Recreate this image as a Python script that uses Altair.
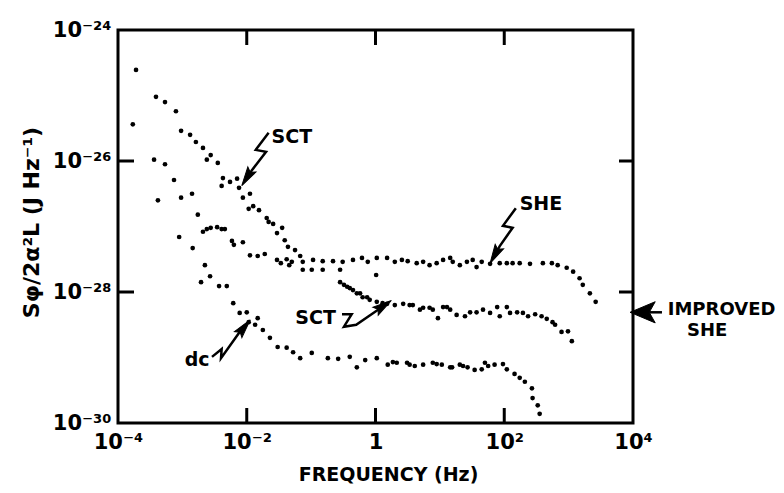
import altair as alt
import pandas as pd

# ---- data (log10 of frequency in Hz, log10 of S_phi/2a^2L in J/Hz) ----
sct_hi_logf = [-3.72, -3.41, -3.27, -3.10, -3.02, -2.88, -2.79, -2.68, -2.56, -2.62, -2.45, -2.37,
               -2.26, -2.15, -2.39, -2.12, -2.06, -1.95, -1.90, -1.97, -1.81, -1.69, -1.66, -1.59,
               -1.45, -1.53, -1.41, -1.36, -1.25, -1.17, -1.13, -0.99, -0.82, -0.55, 0.01]
sct_hi_logs = [-24.61, -25.02, -25.10, -25.24, -25.54, -25.60, -25.71, -25.80, -25.91, -25.98, -26.03, -26.26,
               -26.32, -26.27, -26.38, -26.41, -26.56, -26.50, -26.69, -26.73, -26.75, -26.87, -26.93, -26.96,
               -27.02, -27.10, -27.21, -27.31, -27.36, -27.45, -27.66, -27.66, -27.66, -27.66, -27.74]

she_logf = [-3.77, -3.44, -3.27, -3.13, -3.02, -2.85, -2.76, -2.68, -2.62, -2.56, -2.46, -2.39, -2.34,
            -2.23, -2.20, -2.06, -1.95, -1.83, -1.72, -1.53, -1.47, -1.38, -1.34, -1.30, -1.13, -0.97,
            -0.82, -0.66, -0.51, -0.35, -0.21, -0.12, 0.02, 0.18, 0.30, 0.41, 0.50, 0.64, 0.74, 0.84,
            0.95, 1.05, 1.16, 1.20, 1.31, 1.42, 1.51, 1.57, 1.65, 1.78, 1.93, 2.04, 2.13, 2.24, 2.40,
            2.60, 2.74, 2.83, 2.97, 3.07, 3.17, 3.22, 3.33, 3.42]
she_logs = [-25.44, -25.98, -26.05, -26.29, -26.56, -26.50, -26.82, -27.08, -27.04, -27.02, -27.01, -27.04,
            -27.04, -27.22, -27.28, -27.24, -27.44, -27.45, -27.42, -27.51, -27.56, -27.50, -27.59, -27.54,
            -27.54, -27.51, -27.53, -27.53, -27.54, -27.51, -27.48, -27.54, -27.48, -27.48, -27.54, -27.51,
            -27.53, -27.56, -27.54, -27.59, -27.56, -27.51, -27.48, -27.54, -27.59, -27.54, -27.51, -27.62,
            -27.54, -27.57, -27.56, -27.56, -27.56, -27.56, -27.57, -27.56, -27.56, -27.59, -27.63, -27.69,
            -27.79, -27.89, -28.02, -28.15]

sct_lo_logf = [-0.55, -0.49, -0.44, -0.40, -0.35, -0.29, -0.24, -0.20, -0.13, -0.09, 0.02, 0.11, 0.18,
               0.30, 0.43, 0.53, 0.58, 0.69, 0.74, 0.84, 0.89, 0.97, 1.05, 1.11, 1.16, 1.26, 1.39, 1.47,
               1.57, 1.67, 1.78, 1.89, 1.93, 2.04, 2.09, 2.20, 2.29, 2.37, 2.48, 2.58, 2.66, 2.75, 2.79,
               2.89, 2.99, 3.05]
sct_lo_logs = [-27.85, -27.89, -27.92, -27.94, -27.97, -28.02, -28.02, -28.08, -28.08, -28.12, -28.15,
               -28.17, -28.18, -28.20, -28.18, -28.20, -28.20, -28.27, -28.24, -28.24, -28.27, -28.40,
               -28.23, -28.23, -28.27, -28.35, -28.37, -28.31, -28.31, -28.27, -28.32, -28.23, -28.37,
               -28.23, -28.32, -28.31, -28.32, -28.37, -28.34, -28.37, -28.41, -28.46, -28.50, -28.61,
               -28.60, -28.75]

dc_logf = [-3.38, -3.05, -2.84, -2.65, -2.57, -2.71, -2.43, -2.31, -2.21, -2.11, -2.00, -1.97, -1.87,
           -1.83, -1.75, -1.64, -1.52, -1.38, -1.28, -1.17, -0.99, -0.74, -0.58, -0.40, -0.29, -0.16,
           0.02, 0.19, 0.27, 0.33, 0.49, 0.53, 0.61, 0.74, 0.89, 0.95, 1.03, 1.16, 1.19, 1.31, 1.36,
           1.43, 1.54, 1.65, 1.70, 1.75, 1.85, 1.98, 2.04, 2.16, 2.24, 2.32, 2.43, 2.44, 2.52, 2.55]
dc_logs = [-26.60, -27.16, -27.33, -27.59, -27.76, -27.85, -27.91, -27.91, -28.17, -28.32, -28.31, -28.46,
           -28.50, -28.40, -28.58, -28.70, -28.84, -28.85, -28.92, -29.01, -28.93, -29.01, -29.02, -28.99,
           -29.15, -29.04, -29.01, -29.11, -29.07, -29.08, -29.08, -29.11, -29.13, -29.11, -29.08, -29.10,
           -29.11, -29.15, -29.15, -29.11, -29.13, -29.15, -29.19, -29.18, -29.08, -29.13, -29.11, -29.10,
           -29.18, -29.25, -29.31, -29.37, -29.47, -29.62, -29.73, -29.86]

# annotation labels inside the plot (text, log f, log S) -- centred
label_text = ["SCT", "SHE", "SCT", "dc"]
label_logf = [-1.30, 2.57, -0.93, -2.77]
label_logs = [-25.63, -26.66, -28.40, -29.04]
# labels beside the right frame -- left aligned
side_text = ["IMPROVED", "SHE"]
side_logf = [4.54, 4.84]
side_logs = [-28.27, -28.60]

# squiggle arrows (group, log f, log S)
arrow_group = ["a"] * 5 + ["b"] * 5 + ["c"] * 6 + ["d"] * 5 + ["e"] * 2
arrow_logf = [-1.66, -1.86, -1.70, -1.92, -1.96,
              2.18, 1.98, 2.13, 1.93, 1.89,
              -0.52, -0.37, -0.49, -0.30, 0.04, 0.09,
              -2.54, -2.39, -2.40, -2.11, -2.08,
              4.45, 4.25]
arrow_logs = [-25.57, -25.83, -25.86, -26.14, -26.20,
              -26.72, -26.99, -27.02, -27.30, -27.37,
              -28.34, -28.34, -28.53, -28.50, -28.27, -28.24,
              -28.99, -28.87, -29.01, -28.61, -28.57,
              -28.31, -28.31]
# small arrow heads on the squiggles (log f, log S, angle)
head_logf = [-1.99, 1.86, 0.11, -2.05]
head_logs = [-26.24, -27.42, -28.22, -28.55]
head_angle = [212, 209, 56, 39]
# large arrow head of the "IMPROVED SHE" marker
big_head_logf = [4.16]
big_head_logs = [-28.31]

x_tick_values = [-4, -2, 0, 2, 4]
x_tick_labels = ["10⁻⁴", "10⁻²", "1", "10²", "10⁴"]
y_tick_values = [-30, -28, -26, -24]
y_tick_labels = ["10⁻³⁰", "10⁻²⁸", "10⁻²⁶", "10⁻²⁴"]
inner_x_ticks = [-2, 0, 2]
inner_y_ticks = [-28, -26]

# ---- tables ----
rows = []
for name, fs, ss in [("SCT1", sct_hi_logf, sct_hi_logs), ("SHE", she_logf, she_logs),
                     ("SCT2", sct_lo_logf, sct_lo_logs), ("dc", dc_logf, dc_logs)]:
    for f, s in zip(fs, ss):
        rows.append({"series": name, "lf": f, "ls": s})
pts = pd.DataFrame(rows)
labels = pd.DataFrame({"text": label_text, "lf": label_logf, "ls": label_logs})
side = pd.DataFrame({"text": side_text, "lf": side_logf, "ls": side_logs})
arrows = pd.DataFrame({"g": arrow_group, "lf": arrow_logf, "ls": arrow_logs,
                       "i": list(range(len(arrow_group)))})
heads = pd.DataFrame({"lf": head_logf, "ls": head_logs, "angle": head_angle})
big_heads = pd.DataFrame({"lf": big_head_logf, "ls": big_head_logs})
xt = pd.DataFrame({"v": inner_x_ticks})
yt = pd.DataFrame({"v": inner_y_ticks})

W, H = 515, 393
FONT = "DejaVu Sans"
ARROW = "M0,-1L0.45,0.8L0,0.5L-0.45,0.8Z"
BIG_ARROW = "M-1,0L0.9,-0.8L0.45,0L0.9,0.8Z"


def label_expr(vals, labs):
    return "".join(f"datum.value == {v} ? '{l}' : " for v, l in zip(vals, labs)) + "''"


xscale = alt.Scale(domain=[-4, 4], nice=False, zero=False)
yscale = alt.Scale(domain=[-30, -24], nice=False, zero=False)

xaxis = alt.Axis(values=x_tick_values, labelExpr=label_expr(x_tick_values, x_tick_labels),
                 ticks=False, domain=False, grid=False, labelFlush=False, labelOverlap=False,
                 labelFont=FONT, labelFontSize=21, labelFontWeight="bold", labelColor="black",
                 labelPadding=8, labelBaseline="top",
                 title="FREQUENCY (Hz)", titleFont=FONT, titleFontSize=19, titleFontWeight="bold",
                 titleColor="black", titleX=270, titleY=51, titleBaseline="middle", titleAlign="center")
yaxis = alt.Axis(values=y_tick_values, labelExpr=label_expr(y_tick_values, y_tick_labels),
                 ticks=False, domain=False, grid=False, labelFlush=False, labelOverlap=False,
                 labelFont=FONT, labelFontSize=21, labelFontWeight="bold", labelColor="black",
                 labelPadding=7, labelBaseline="middle",
                 title="Sφ/2α²L   (J Hz⁻¹)", titleFont=FONT, titleFontSize=22, titleFontWeight="bold",
                 titleColor="black", titleX=-87, titleY=192, titleAngle=-90,
                 titleBaseline="middle", titleAlign="center")


def X(field="lf"):
    return alt.X(f"{field}:Q", scale=xscale, axis=xaxis)


def Y(field="ls"):
    return alt.Y(f"{field}:Q", scale=yscale, axis=yaxis)


dots = alt.Chart(pts).mark_circle(size=22, color="black", opacity=1).encode(
    x=X(), y=Y())

text_c = alt.Chart(labels).mark_text(font=FONT, fontSize=19, fontWeight="bold", color="black",
                                     baseline="middle", align="center").encode(
    x=X(), y=Y(), text="text:N")
text_l = alt.Chart(side).mark_text(font=FONT, fontSize=18, fontWeight="bold", color="black",
                                   baseline="middle", align="left").encode(
    x=X(), y=Y(), text="text:N")

squig = alt.Chart(arrows).mark_line(color="black", strokeWidth=2.5).encode(
    x=X(), y=Y(), detail="g:N", order="i:Q")

head = alt.Chart(heads).mark_point(shape=ARROW, filled=True, fill="black", stroke="black",
                                   strokeWidth=1, opacity=1, size=450).encode(
    x=X(), y=Y(), angle=alt.Angle("angle:Q", scale=None))

big_head = alt.Chart(big_heads).mark_point(shape=BIG_ARROW, filled=True, fill="black",
                                           stroke="black", strokeWidth=1, opacity=1,
                                           size=700).encode(
    x=X(), y=Y())

bt = alt.Chart(xt).mark_rule(color="black", strokeWidth=3).encode(
    x=X("v"), y=alt.value(H), y2=alt.value(H - 15))
tt = alt.Chart(xt).mark_rule(color="black", strokeWidth=3).encode(
    x=X("v"), y=alt.value(0), y2=alt.value(15))
lt = alt.Chart(yt).mark_rule(color="black", strokeWidth=3).encode(
    y=Y("v"), x=alt.value(0), x2=alt.value(16))
rt = alt.Chart(yt).mark_rule(color="black", strokeWidth=3).encode(
    y=Y("v"), x=alt.value(W), x2=alt.value(W - 14))

chart = alt.layer(dots, bt, tt, lt, rt, squig, head, big_head, text_c, text_l).properties(
    width=W, height=H,
    autosize=alt.AutoSizeParams(type="none"),
    padding={"left": 110, "top": 22, "right": 143, "bottom": 62},
    background="white",
).configure_view(stroke="black", strokeWidth=3)

chart.save("out.html", embed_options={"renderer": "svg", "actions": False})
